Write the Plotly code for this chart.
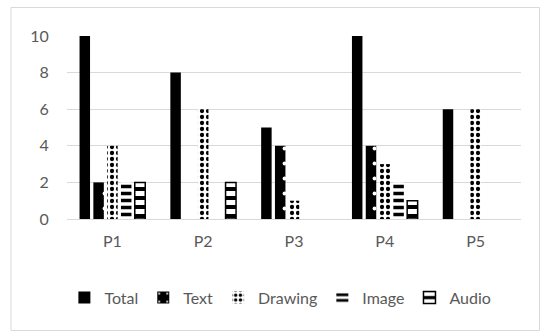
import plotly.graph_objects as go

categories = ["P1", "P2", "P3", "P4", "P5"]
total = [10, 8, 5, 10, 6]
text_v = [2, 0, 4, 4, 0]
drawing = [4, 6, 1, 3, 6]
image = [2, 0, 0, 2, 0]
audio = [2, 2, 0, 1, 0]
y_ticks = [0, 2, 4, 6, 8, 10]


def outline(vals):
    return ["black" if v else "rgba(0,0,0,0)" for v in vals]


fig = go.Figure()
fig.add_bar(name="Total", x=categories, y=total,
            marker=dict(color="black", line=dict(width=0)))
fig.add_bar(name="Text", x=categories, y=text_v,
            marker=dict(color="black", line=dict(width=0),
                        pattern=dict(shape=".", bgcolor="black", fgcolor="white",
                                     size=15, solidity=0.05, fillmode="replace")))
fig.add_bar(name="Drawing", x=categories, y=drawing,
            marker=dict(color="white", line=dict(width=0),
                        pattern=dict(shape=".", bgcolor="white", fgcolor="black",
                                     size=6, solidity=0.4, fillmode="replace")))
fig.add_bar(name="Image", x=categories, y=image,
            marker=dict(color="white", line=dict(width=0),
                        pattern=dict(shape="-", bgcolor="white", fgcolor="black",
                                     size=7, solidity=0.5, fillmode="replace")))
fig.add_bar(name="Audio", x=categories, y=audio,
            marker=dict(color="black", line=dict(width=1.5, color=outline(audio)),
                        pattern=dict(shape="-", bgcolor="black", fgcolor="white",
                                     size=9, solidity=0.55, fillmode="replace")))

font = "Lato, Carlito, 'Open Sans', sans-serif"
fig.update_layout(
    width=541, height=332,
    margin=dict(l=67, r=20, t=36, b=113),
    paper_bgcolor="white", plot_bgcolor="white",
    barmode="group", bargap=0.24, bargroupgap=0.24,
    font=dict(family=font, size=16, color="#595959"),
    showlegend=True,
    legend=dict(orientation="h", x=0.47, xanchor="center", y=-0.43, yanchor="middle",
                font=dict(size=16, color="#595959"), itemwidth=30,
                traceorder="normal"),
    xaxis=dict(showgrid=False, showline=False, ticks="outside", ticklen=8,
               tickcolor="rgba(0,0,0,0)", zeroline=False),
    yaxis=dict(range=[0, 10], tickvals=y_ticks, showgrid=True, gridcolor="#d9d9d9",
               gridwidth=1, zeroline=True, zerolinecolor="#d9d9d9", zerolinewidth=1,
               showline=False, ticks="outside", ticklen=14, tickcolor="rgba(0,0,0,0)"),
    shapes=[dict(type="rect", xref="paper", yref="paper",
                 x0=(11 - 67) / 454, x1=(539.5 - 67) / 454,
                 y0=(219 - 330.5) / 183, y1=(219 - 7.5) / 183,
                 line=dict(color="#d9d9d9", width=1), fillcolor="rgba(0,0,0,0)",
                 layer="below")],
)

fig.write_html("out.html", config={"displayModeBar": False},
               post_script="document.body.style.margin='0';")
